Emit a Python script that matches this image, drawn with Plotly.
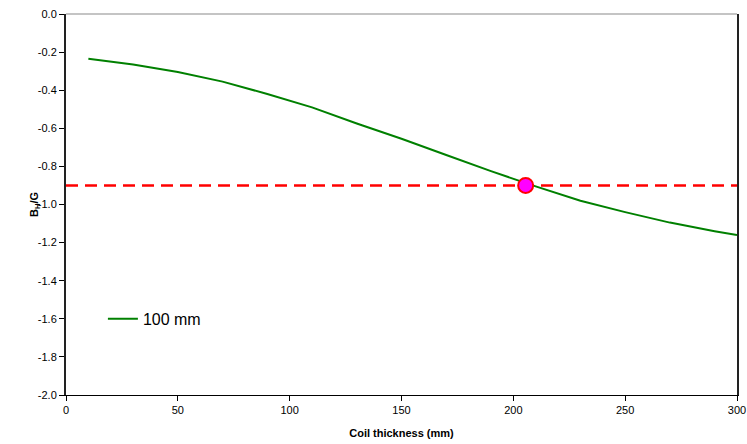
import plotly.graph_objects as go

thickness = [10, 30, 50, 70, 90, 110, 130, 150, 170, 190, 210, 230, 250, 270, 290, 300]
bh_g = [-0.235, -0.265, -0.305, -0.355, -0.42, -0.49, -0.575, -0.655, -0.74, -0.825,
        -0.905, -0.98, -1.04, -1.095, -1.14, -1.16]
target_level = -0.9
cross_x = [205.5]
cross_y = [-0.9]
y_tick_vals = [0.0, -0.2, -0.4, -0.6, -0.8, -1.0, -1.2, -1.4, -1.6, -1.8, -2.0]
y_tick_text = ["0.0", "-0.2", "-0.4", "-0.6", "-0.8", "-1.0", "-1.2", "-1.4", "-1.6", "-1.8", "-2.0"]
x_tick_vals = [0, 50, 100, 150, 200, 250, 300]

fig = go.Figure()
fig.add_trace(go.Scatter(x=thickness, y=bh_g, mode="lines", name="100 mm",
                         line=dict(color="#008000", width=2)))
fig.add_trace(go.Scatter(x=cross_x, y=cross_y, mode="markers", showlegend=False,
                         marker=dict(size=15, color="#FF00FF",
                                     line=dict(color="#FF0000", width=2))))
fig.add_shape(type="line", xref="paper", x0=0, x1=1, yref="y", y0=target_level, y1=target_level,
              line=dict(color="#FF0000", width=2.5, dash="12px,7px"), layer="below")
fig.add_shape(type="line", xref="paper", x0=0, x1=1, yref="paper", y0=1, y1=1,
              line=dict(color="#B0B0B0", width=1.5))
fig.add_annotation(text="<b>B<sub>H</sub>/G</b>", xref="paper", yref="paper",
                   x=-0.047, y=0.5, textangle=-90, showarrow=False,
                   xanchor="center", yanchor="middle", font=dict(size=11))

fig.update_layout(
    width=747, height=444,
    margin=dict(l=66, r=10, t=14, b=49),
    plot_bgcolor="white", paper_bgcolor="white",
    font=dict(family="Liberation Sans, Arial, sans-serif", size=11, color="black"),
    legend=dict(x=0.055, y=0.20, xanchor="left", yanchor="middle",
                bgcolor="rgba(0,0,0,0)", font=dict(size=16), itemwidth=30),
    xaxis=dict(range=[0, 300], tickvals=x_tick_vals, automargin=False,
               showgrid=False, zeroline=False, showline=True, linecolor="black", linewidth=1,
               ticks="outside", ticklen=5, tickcolor="black",
               title=dict(text="<b>Coil thickness (mm)</b>", font=dict(size=11), standoff=14)),
    yaxis=dict(range=[-2.0, 0.0], tickvals=y_tick_vals, ticktext=y_tick_text, automargin=False,
               showgrid=False, zeroline=False, showline=True, mirror=True,
               linecolor="#222222", linewidth=2,
               ticks="outside", ticklen=5, tickcolor="black"),
)

fig.write_html("out.html")
